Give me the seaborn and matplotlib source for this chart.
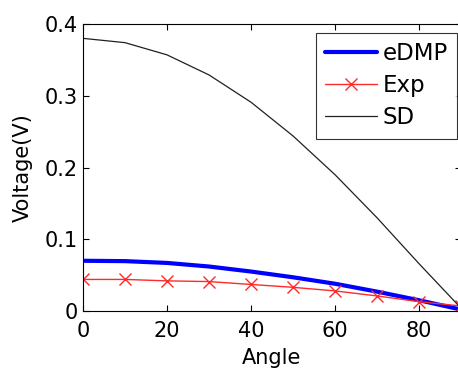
import matplotlib
matplotlib.use("Agg")
import matplotlib.pyplot as plt
import seaborn as sns

angle = [0, 10, 20, 30, 40, 50, 60, 70, 80, 90]
edmp = [0.070, 0.0695, 0.067, 0.062, 0.055, 0.047, 0.038, 0.027, 0.015, 0.002]
exp_v = [0.044, 0.044, 0.042, 0.041, 0.037, 0.033, 0.028, 0.021, 0.013, 0.007]
sd = [0.380, 0.374, 0.357, 0.329, 0.291, 0.244, 0.190, 0.130, 0.066, 0.004]

sns.set_style("ticks")
plt.rcParams['font.family'] = ['DejaVu Sans']
plt.rcParams['text.color'] = 'black'
plt.rcParams['axes.labelcolor'] = 'black'

fig = plt.figure(figsize=(4.58, 3.69), dpi=100)
ax = fig.add_axes([83 / 458, 1 - 311 / 369, 378 / 458, 287 / 369])

sns.lineplot(x=angle, y=edmp, ax=ax, color='#0000ff', linewidth=3.0, label='eDMP')
sns.lineplot(x=angle, y=exp_v, ax=ax, color='#ff2a2a', linewidth=1.0, marker='x',
             markersize=9, markeredgewidth=1.0, markeredgecolor='#ff2a2a', label='Exp')
sns.lineplot(x=angle, y=sd, ax=ax, color='#202020', linewidth=0.9, label='SD')

ax.set_xlim(0, 90)
ax.set_ylim(0, 0.4)
ax.set_xticks([0, 20, 40, 60, 80])
ax.set_yticks([0, 0.1, 0.2, 0.3, 0.4])
ax.set_yticklabels(['0', '0.1', '0.2', '0.3', '0.4'])
ax.tick_params(direction='in', length=4, width=0.8, labelsize=15, top=True, right=True,
               colors='black', pad=4)
ax.tick_params(axis='x', pad=7)
for s in ax.spines.values():
    s.set_visible(True)
    s.set_color('black')
    s.set_linewidth(0.8)
ax.set_xlabel('Angle', fontsize=15, labelpad=5, color='black')
ax.set_ylabel('Voltage(V)', fontsize=15, labelpad=8, color='black')

leg = ax.legend(loc='upper right', bbox_to_anchor=(0.989, 0.969), fontsize=16.5, frameon=True,
                fancybox=False, edgecolor='black', handlelength=2.3, handletextpad=0.22,
                labelspacing=0.4, borderpad=0.4, borderaxespad=0)
leg.get_frame().set_linewidth(0.8)
for t in leg.get_texts():
    t.set_color('black')

fig.savefig('out.png', dpi=100)
